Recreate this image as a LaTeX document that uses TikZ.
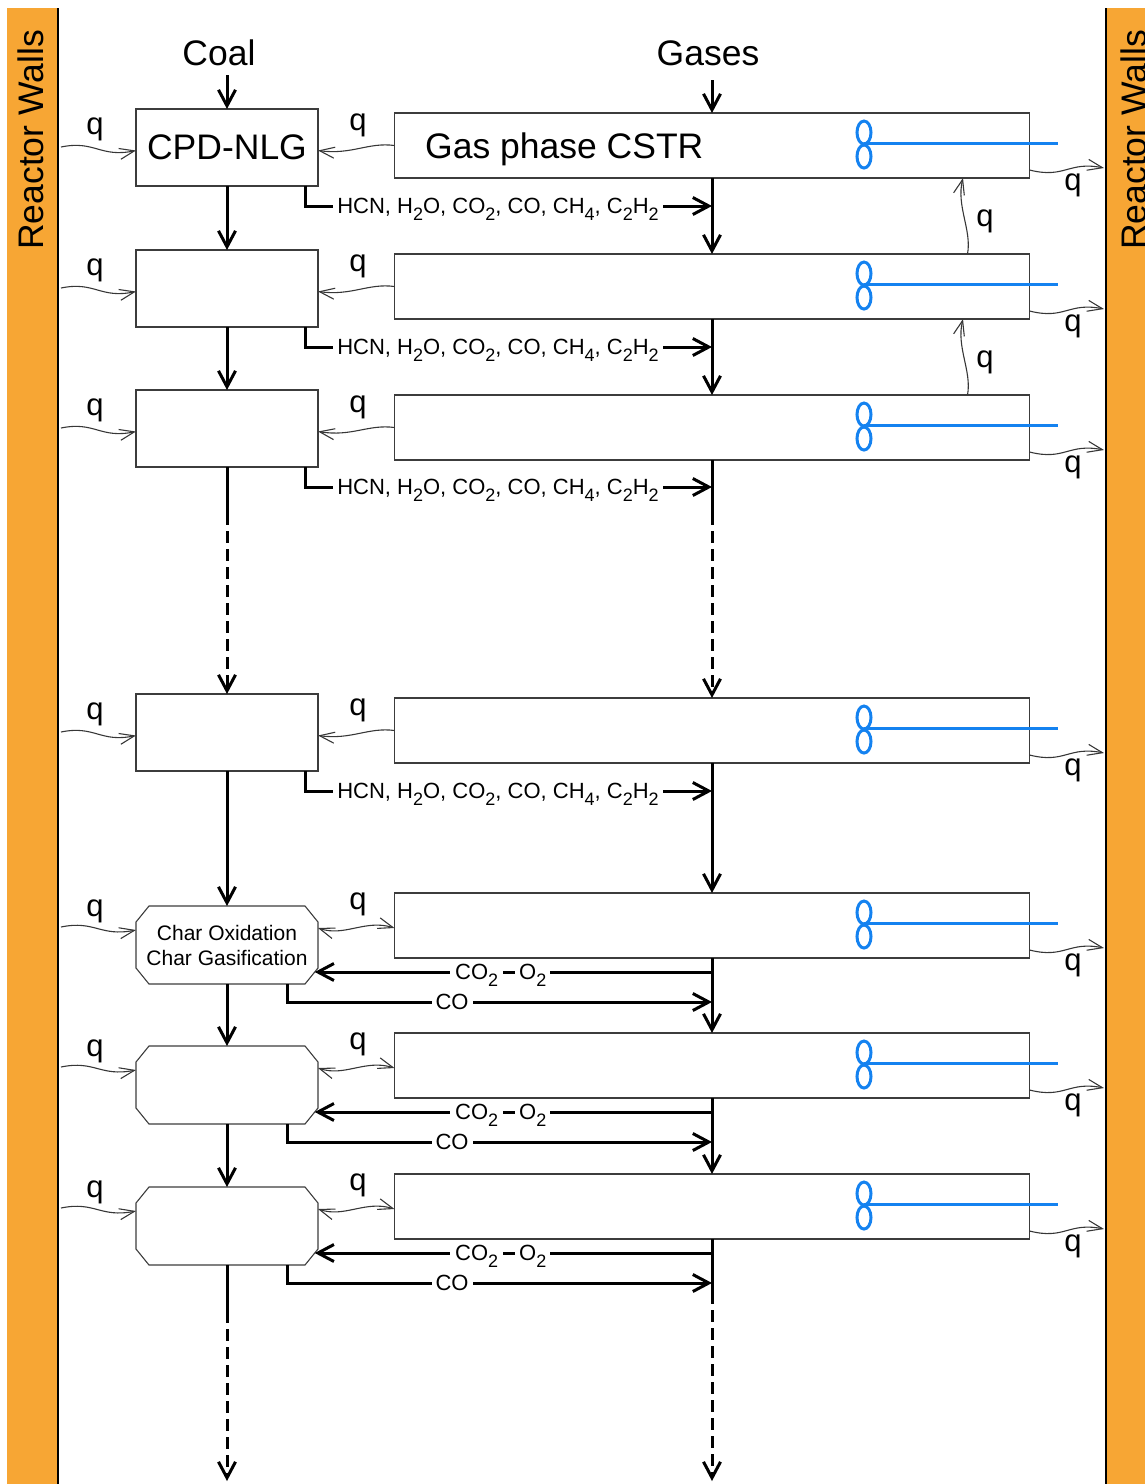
\documentclass[tikz,border=0pt]{standalone}
\usepackage{fontspec}
\setmainfont{Liberation Sans}
\usetikzlibrary{arrows.meta,calc}
\definecolor{wall}{RGB}{247,166,52}
\definecolor{mix}{RGB}{20,130,240}
\definecolor{edge}{RGB}{60,60,60}
\definecolor{heatc}{RGB}{55,55,55}
\newcommand\mysub[1]{\raisebox{-0.3em}{\fontsize{18}{18}\selectfont #1}}
\tikzset{
 big/.style={font=\fontsize{35.5}{40}\selectfont},
 qlab/.style={font=\fontsize{31}{34}\selectfont, anchor=base, inner sep=0},
 small/.style={font=\fontsize{22}{26}\selectfont, fill=white, inner xsep=4pt, inner ysep=2pt, anchor=base},
 lbox/.style={draw=edge, line width=1.3pt, rectangle, minimum width=182pt, minimum height=77pt, inner sep=0, outer sep=0},
 obox/.style={rectangle, minimum width=182pt, minimum height=78pt, inner sep=0, outer sep=0, font=\fontsize{21}{25}\selectfont, align=center},
 oline/.style={draw=edge, line width=1.1pt, line join=miter},
 gbox/.style={draw=edge, line width=1.3pt, rectangle, minimum width=635pt, minimum height=65pt, inner sep=0, outer sep=0},
 flow/.style={line width=3pt, -{Straight Barb[length=16pt,width=17pt,line width=3pt]}},
 flowline/.style={line width=3pt},
 dashflow/.style={flow, dash pattern=on 12pt off 6pt},
 heat/.style={draw=heatc, line width=1.1pt, -{Straight Barb[length=15pt,width=11pt,line width=1.1pt]}},
 heattwo/.style={draw=heatc, line width=1.1pt, {Straight Barb[length=15pt,width=11pt,line width=1.1pt]}-{Straight Barb[length=15pt,width=11pt,line width=1.1pt]}},
 mixer/.style={draw=mix, line width=3pt},
}
\begin{document}
\begin{tikzpicture}[x=1pt,y=-1pt]
\useasboundingbox (0,0) rectangle (1145,1484);
% walls
\fill[wall] (7,8) rectangle (57,1484);
\draw[line width=2.5pt] (58,8) -- (58,1484);
\fill[wall] (1107,8) rectangle (1145,1484);
\draw[line width=2.5pt] (1106,8) -- (1106,1484);
\node[big, rotate=90, anchor=base west, inner sep=0] (wl) at (43,250) {Reactor Walls};
\node[big, rotate=90, anchor=base west, inner sep=0] (wr) at (1146,250) {Reactor Walls};
% inputs
\node[big, anchor=base, inner sep=0] (coal) at (219,65) {Coal};
\node[big, anchor=base, inner sep=0] (gases) at (708,65) {Gases};
% left boxes
\node[lbox, big] (L1) at (227,147.5) {CPD-NLG};
\node[lbox] (L2) at (227,288.5) {};
\node[lbox] (L3) at (227,428.5) {};
\node[lbox] (L4) at (227,732.5) {};
\node[obox] (L5) at (227,945) {Char Oxidation\\Char Gasification};
\node[obox] (L6) at (227,1085) {};
\node[obox] (L7) at (227,1226) {};
\foreach \i in {5,6,7}{
  \draw[oline] ([xshift=13pt]L\i.north west) -- ([xshift=-13pt]L\i.north east)
    -- ([yshift=-16pt]L\i.north east) -- ([yshift=16pt]L\i.south east)
    -- ([xshift=-13pt]L\i.south east) -- ([xshift=13pt]L\i.south west)
    -- ([yshift=16pt]L\i.south west) -- ([yshift=-16pt]L\i.north west) -- cycle;
}
% CSTR boxes
\node[gbox] (R1) at (712,145.5) {};
\node[gbox] (R2) at (712,286.5) {};
\node[gbox] (R3) at (712,427.5) {};
\node[gbox] (R4) at (712,730.5) {};
\node[gbox] (R5) at (712,925.5) {};
\node[gbox] (R6) at (712,1065.5) {};
\node[gbox] (R7) at (712,1206.5) {};
\node[big, anchor=base west, inner sep=0] (gtxt) at (425,158) {Gas phase CSTR};
% mixers
\foreach \yc in {145.5,286.5,427.5,730.5,925.5,1065.5,1206.5}{
  \draw[mixer] (864,\yc-13) ellipse [x radius=7pt, y radius=11.5pt];
  \draw[mixer] (864,\yc+11) ellipse [x radius=7pt, y radius=11.5pt];
  \draw[mixer] (864,\yc-2) -- (1058,\yc-2);
}
% main flows
\coordinate (cin) at (227,75);
\coordinate (gin) at (712,80);
\draw[flow] (cin) -- (L1.north);
\draw[flow] (gin) -- (R1.north);
\draw[flow] (L1.south) -- (L2.north);
\draw[flow] (L2.south) -- (L3.north);
\draw[flowline] (L3.south) -- ++(0,46) coordinate (d3);
\draw[dashflow] (d3) -- (L4.north);
\draw[flow] (L4.south) -- (L5.north);
\draw[flow] (L5.south) -- (L6.north);
\draw[flow] (L6.south) -- (L7.north);
\draw[flowline] (L7.south) -- ++(0,46) coordinate (d7);
\coordinate (lend) at (227,1481);
\draw[dashflow] (d7) -- (lend);
\draw[flow] (R1.south) -- (R2.north);
\draw[flow] (R2.south) -- (R3.north);
\draw[flowline] (R3.south) -- ++(0,53) coordinate (e3);
\draw[dashflow] (e3) -- (R4.north);
\draw[flow] (R4.south) -- (R5.north);
\draw[flow] (R5.south) -- (R6.north);
\draw[flow] (R6.south) -- (R7.north);
\draw[flowline] (R7.south) -- ++(0,53) coordinate (e7);
\coordinate (rend) at (712,1481);
\draw[dashflow] (e7) -- (rend);
% devolatilisation rows
\foreach \i/\yl/\yr in {1/109/113,2/250/254,3/390/395,4/694/698}{
  \coordinate (wl\i) at (61,\yl+38);
  \draw[heat] (wl\i) .. controls (95,\yl+31) and (100,\yl+49) .. ([yshift=-3pt]L\i.west);
  \node[qlab] at (95,\yl+25) {q};
  \draw[heat] (R\i.west) .. controls (368,\yr+29) and (352,\yr+42) .. ([yshift=-3pt]L\i.east);
  \node[qlab] at (358,\yr+17) {q};
  \coordinate (wr\i) at (1104,\yr+55);
  \draw[heat] ([yshift=-24.5pt]R\i.east) .. controls (1065,\yr+66) and (1068,\yr+48) .. (wr\i);
  \node[qlab] at (1073,\yr+77) {q};
  \coordinate (h\i) at (712,\yl+97);
  \draw[flow] ([xshift=-13pt]L\i.south east) |- (h\i);
  \node[small] at (498,\yl+104.9) {HCN, H\mysub{2}O, CO\mysub{2}, CO, CH\mysub{4}, C\mysub{2}H\mysub{2}};
}
% char rows
\foreach \i/\yl/\yr in {5/906/893,6/1046/1033,7/1187/1174}{
  \coordinate (wl\i) at (61,\yl+21);
  \draw[heat] (wl\i) .. controls (95,\yl+14) and (100,\yl+31) .. ([yshift=15pt]L\i.west);
  \node[qlab] at (95,\yl+10) {q};
  \draw[heattwo] ([yshift=17pt]L\i.east) .. controls (345,\yl+31) and (365,\yr+26) .. ([yshift=-2.5pt]R\i.west);
  \node[qlab] at (358,\yr+16) {q};
  \coordinate (wr\i) at (1104,\yr+55);
  \draw[heat] ([yshift=-24.5pt]R\i.east) .. controls (1065,\yr+66) and (1068,\yr+48) .. (wr\i);
  \node[qlab] at (1073,\yr+77) {q};
  \coordinate (t\i) at ([xshift=-3.25pt,yshift=12pt]L\i.south east);
  \draw[flow] (R\i.south |- t\i) -- (t\i);
  \node[small, anchor=base west, inner xsep=5pt] at (450,\yl+73.9) {CO\mysub{2}\hspace{5pt}};
  \node[small, anchor=base west, inner xsep=4pt] at (515,\yl+73.9) {O\mysub{2}\hspace{6pt}};
  \coordinate (co\i) at (712,\yl+96);
  \draw[flow] ([xshift=60pt]L\i.south) |- (co\i);
  \node[small] at (452,\yl+103.9) {CO};
}
% heat between CSTRs
\draw[heat] ([xshift=255.5pt]R2.north) .. controls (972,230) and (956,206) .. ([xshift=251pt]R1.south);
\node[qlab] at (985,226) {q};
\draw[heat] ([xshift=255.5pt]R3.north) .. controls (972,371) and (956,347) .. ([xshift=251pt]R2.south);
\node[qlab] at (985,367) {q};
\end{tikzpicture}
\end{document}
